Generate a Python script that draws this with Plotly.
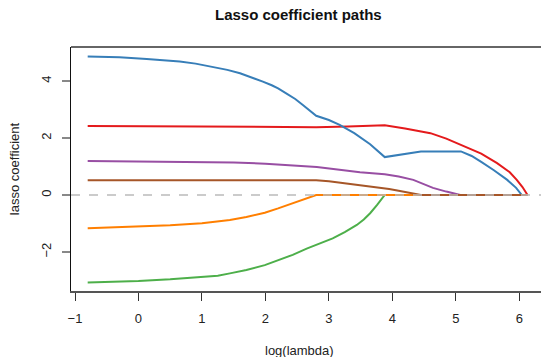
import plotly.graph_objects as go

# ---- data ----
red_x = [-0.8, 0.0, 1.0, 2.0, 2.8, 3.3, 3.88, 4.2, 4.6, 4.85, 5.1, 5.4, 5.65, 5.85, 5.96, 6.05, 6.13]
red_y = [2.42, 2.41, 2.40, 2.39, 2.38, 2.40, 2.45, 2.33, 2.17, 1.98, 1.75, 1.45, 1.12, 0.80, 0.53, 0.28, 0.0]

blue_x = [-0.8, -0.3, 0.13, 0.4, 0.65, 0.9, 1.17, 1.4, 1.6, 1.8, 1.96, 2.1, 2.2, 2.34, 2.47, 2.59, 2.7, 2.8,
          3.0, 3.17, 3.4, 3.65, 3.88, 4.2, 4.45, 5.08, 5.25, 5.4, 5.6, 5.81, 5.95, 6.04, 6.13]
blue_y = [4.86, 4.83, 4.77, 4.73, 4.68, 4.61, 4.50, 4.39, 4.27, 4.12, 3.98, 3.85, 3.74, 3.55, 3.37, 3.16, 2.97, 2.78,
          2.63, 2.46, 2.17, 1.78, 1.33, 1.45, 1.53, 1.53, 1.37, 1.16, 0.87, 0.53, 0.25, 0.0, 0.0]

green_x = [-0.8, 0.0, 0.5, 1.0, 1.25, 1.44, 1.7, 1.99, 2.2, 2.43, 2.65, 2.8, 3.06, 3.25, 3.44, 3.55, 3.65, 3.76, 3.88, 6.13]
green_y = [-3.07, -3.02, -2.96, -2.89, -2.83, -2.75, -2.63, -2.46, -2.30, -2.10, -1.88, -1.74, -1.52, -1.30, -1.05, -0.86, -0.64, -0.35, 0.0, 0.0]

purple_x = [-0.8, 0.0, 1.0, 1.5, 2.0, 2.5, 2.81, 3.2, 3.49, 3.88, 4.1, 4.33, 4.5, 4.64, 4.85, 5.07, 6.13]
purple_y = [1.19, 1.18, 1.16, 1.14, 1.10, 1.04, 0.98, 0.88, 0.80, 0.73, 0.65, 0.53, 0.39, 0.25, 0.12, 0.0, 0.0]

orange_x = [-0.8, 0.0, 0.5, 1.0, 1.25, 1.44, 1.7, 1.99, 2.2, 2.43, 2.65, 2.8, 6.13]
orange_y = [-1.17, -1.11, -1.06, -0.99, -0.94, -0.88, -0.77, -0.62, -0.47, -0.29, -0.13, 0.0, 0.0]

brown_x = [-0.8, 0.0, 1.0, 2.0, 2.8, 3.0, 3.17, 3.5, 3.76, 3.95, 4.12, 4.3, 4.45, 6.13]
brown_y = [0.52, 0.52, 0.52, 0.52, 0.52, 0.48, 0.43, 0.35, 0.28, 0.21, 0.14, 0.06, 0.0, 0.0]

series = [
    ("red", red_x, red_y, "#E41A1C"),
    ("blue", blue_x, blue_y, "#377EB8"),
    ("green", green_x, green_y, "#4DAF4A"),
    ("purple", purple_x, purple_y, "#984EA3"),
    ("orange", orange_x, orange_y, "#FF7F00"),
    ("brown", brown_x, brown_y, "#A65628"),
]

x_ticks = [-1, 0, 1, 2, 3, 4, 5, 6]
y_ticks = [-2, 0, 2, 4]

X_RANGE = [-1.063, 6.342]
Y_RANGE = [-3.368, 5.193]

fig = go.Figure()
for name, xs, ys, col in series:
    fig.add_trace(go.Scatter(x=xs, y=ys, mode="lines", name=name,
                             line=dict(color=col, width=2),
                             showlegend=False, hoverinfo="skip"))

# zero reference line
fig.add_trace(go.Scatter(x=X_RANGE, y=[0, 0], mode="lines", showlegend=False,
                         line=dict(color="#BBBBBB", width=1.5, dash="dash"),
                         hoverinfo="skip"))

font_family = "Liberation Sans, Arial, Helvetica, sans-serif"

fig.update_layout(
    width=541, height=357,
    margin=dict(l=71, r=0, t=47, b=66),
    paper_bgcolor="white", plot_bgcolor="white",
    font=dict(family=font_family, size=13, color="#222"),
    xaxis=dict(range=X_RANGE, tickvals=x_ticks, ticks="outside", ticklen=8,
               tickcolor="#333", tickwidth=1, showgrid=False, zeroline=False,
               showline=True, linecolor="#555", linewidth=2,
               ticklabelstandoff=6, tickfont=dict(size=13, color="#222")),
    yaxis=dict(range=Y_RANGE, tickvals=y_ticks, ticks="outside", ticklen=8,
               tickcolor="#888", tickwidth=2, showgrid=False, zeroline=False,
               showline=True, linecolor="#111", linewidth=1, tickangle=-90,
               ticklabelstandoff=6, tickfont=dict(size=13, color="#222")),
    shapes=[dict(type="line", xref="paper", yref="paper", x0=0, x1=1, y0=1, y1=1,
                 line=dict(color="#333", width=1.5))],
    annotations=[
        dict(text="<b>Lasso coefficient paths</b>", xref="paper", yref="paper",
             x=0.483, y=1.135, xanchor="center", yanchor="middle", showarrow=False,
             font=dict(size=15, color="#111")),
        dict(text="log(lambda)", xref="paper", yref="paper",
             x=0.487, y=-0.242, xanchor="center", yanchor="middle", showarrow=False,
             font=dict(size=13, color="#222")),
        dict(text="lasso coefficient", xref="paper", yref="paper",
             x=-0.121, y=0.5, xanchor="center", yanchor="middle", showarrow=False,
             textangle=-90, font=dict(size=13, color="#222")),
    ],
)

fig.write_html("out.html")
